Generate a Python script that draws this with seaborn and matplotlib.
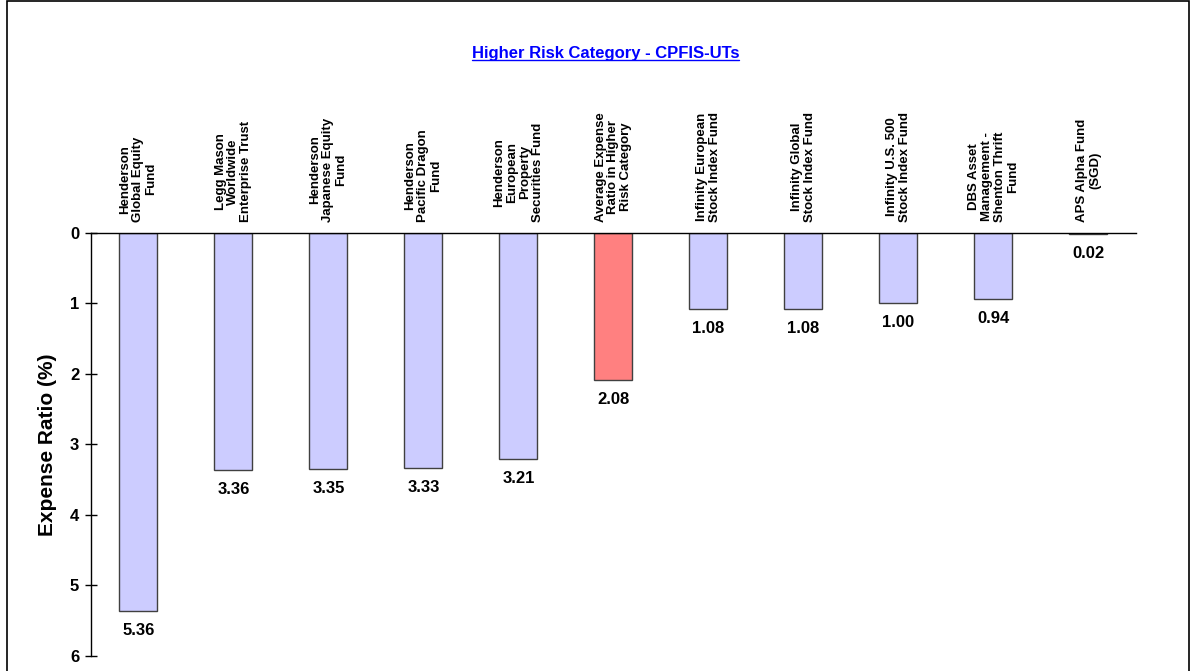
import pandas as pd
import matplotlib
matplotlib.use("Agg")
import matplotlib.pyplot as plt
from matplotlib.lines import Line2D
from matplotlib.patches import Rectangle
import seaborn as sns

# chart data
funds = [
    "Henderson\nGlobal Equity\nFund",
    "Legg Mason\nWorldwide\nEnterprise Trust",
    "Henderson\nJapanese Equity\nFund",
    "Henderson\nPacific Dragon\nFund",
    "Henderson\nEuropean\nProperty\nSecurities Fund",
    "Average Expense\nRatio in Higher\nRisk Category",
    "Infinity European\nStock Index Fund",
    "Infinity Global\nStock Index Fund",
    "Infinity U.S. 500\nStock Index Fund",
    "DBS Asset\nManagement -\nShenton Thrift\nFund",
    "APS Alpha Fund\n(SGD)",
]
expense_ratio = [5.36, 3.36, 3.35, 3.33, 3.21, 2.08, 1.08, 1.08, 1.00, 0.94, 0.02]
group = ["fund"] * 5 + ["average"] + ["fund"] * 5
y_ticks = [0, 1, 2, 3, 4, 5, 6]

df = pd.DataFrame({"fund": funds, "ratio": expense_ratio, "group": group})

sns.set_style("white")
plt.rcParams["font.family"] = ["Liberation Sans Narrow", "Liberation Sans", "DejaVu Sans"]
plt.rcParams["text.color"] = "black"
plt.rcParams["axes.labelcolor"] = "black"
plt.rcParams["xtick.color"] = "black"
plt.rcParams["ytick.color"] = "black"

fig = plt.figure(figsize=(11.92, 6.71), dpi=100)
ax = fig.add_axes([0.0763, 0.0224, 0.8767, 0.6304])

sns.barplot(data=df, x="fund", y="ratio", hue="group",
            palette={"fund": "#CCCCFF", "average": "#FF8080"},
            saturation=1, width=0.4, edgecolor="#404040", linewidth=1.0,
            dodge=False, legend=False, ax=ax)

ax.set_ylim(6, 0)
ax.set_yticks(y_ticks)
ax.set_yticklabels([str(t) for t in y_ticks], fontsize=12, fontweight="bold")
ax.tick_params(axis="y", left=True, direction="inout", length=9, width=1,
               color="black", pad=4)

# category names on top
ax.xaxis.tick_top()
ax.set_xticks(range(len(funds)))
ax.set_xticklabels(funds, rotation=90, fontsize=9.5, fontweight="bold",
                   family=["Liberation Sans", "DejaVu Sans"],
                   ha="center", va="bottom", multialignment="center",
                   linespacing=1.1)
ax.tick_params(axis="x", top=True, length=0, pad=8)
ax.set_xlabel("")

ax.set_ylabel("Expense Ratio (%)", fontsize=15, fontweight="bold",
              family=["Liberation Sans", "DejaVu Sans"], labelpad=9)

for s in ["right", "bottom"]:
    ax.spines[s].set_visible(False)
for s in ["left", "top"]:
    ax.spines[s].set_color("black")
    ax.spines[s].set_linewidth(1)

# value labels below bars
for i, v in enumerate(expense_ratio):
    ax.annotate(f"{v:.2f}", (i, v), xytext=(0, -14), textcoords="offset points",
                ha="center", va="center", fontsize=12, fontweight="bold")

# title with underline
title = fig.text(0.508, 0.921, "Higher Risk Category - CPFIS-UTs", ha="center",
                 va="center", fontsize=12, fontweight="bold", color="#0000FF")
fig.canvas.draw()
bb = title.get_window_extent().transformed(fig.transFigure.inverted())
fig.add_artist(Line2D([bb.x0, bb.x1], [bb.y0 + 0.001, bb.y0 + 0.001],
                      transform=fig.transFigure, color="#0000FF", lw=1))

# outer frame
fig.add_artist(Rectangle((7 / 1192, -0.05), 1182 / 1192, 1.05 - 1.5 / 671,
                         transform=fig.transFigure, fill=False,
                         edgecolor="black", lw=1.2))

fig.savefig("out.png", dpi=100)
